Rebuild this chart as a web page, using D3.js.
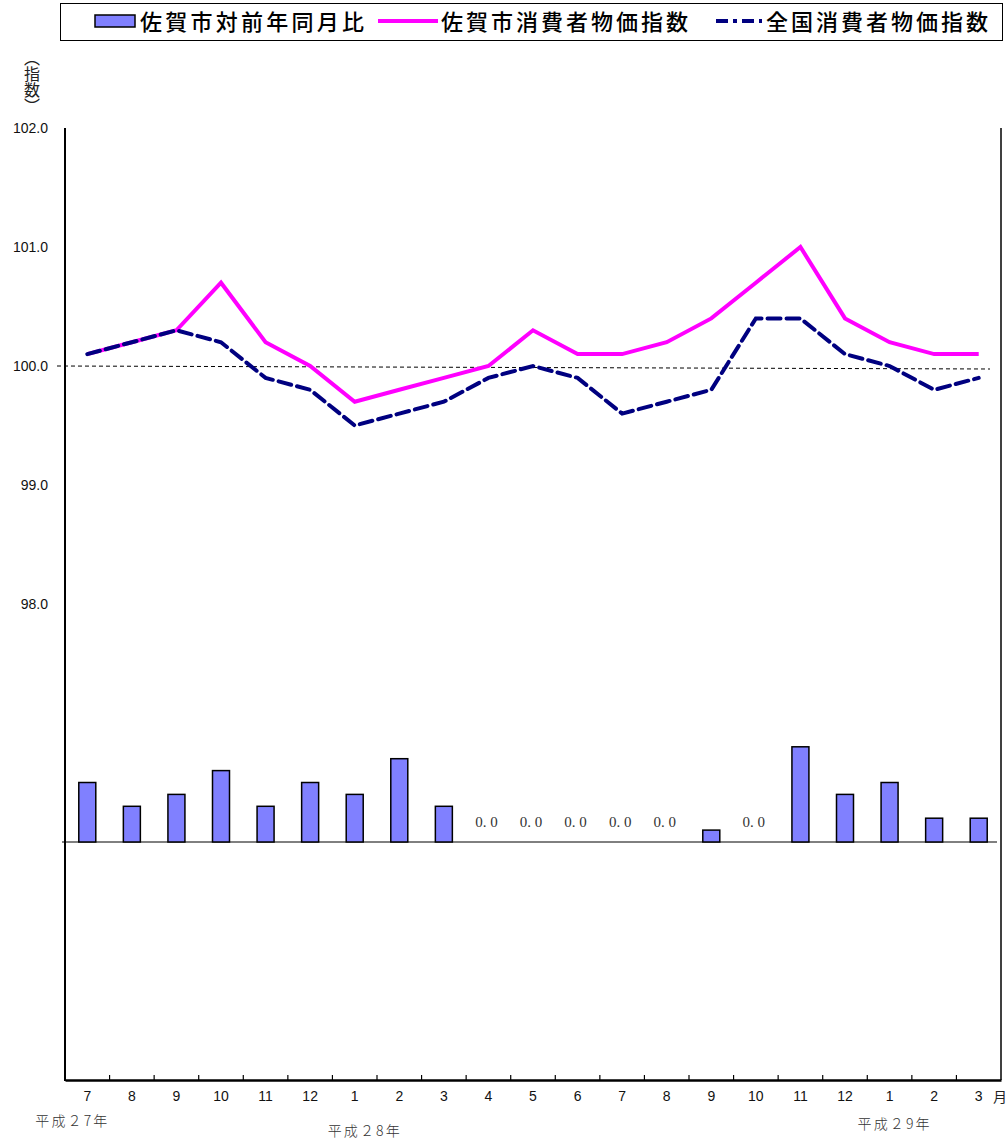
<!DOCTYPE html>
<html><head><meta charset="utf-8">
<script src="https://cdn.jsdelivr.net/npm/d3@7"></script>
<style>body{margin:0;background:#fff}svg{display:block}</style>
</head><body>
<script>
const months = ["7","8","9","10","11","12","1","2","3","4","5","6","7","8","9","10","11","12","1","2","3"];
const sagaYoY = [0.5,0.3,0.4,0.6,0.3,0.5,0.4,0.7,0.3,0.0,0.0,0.0,0.0,0.0,0.1,0.0,0.8,0.4,0.5,0.2,0.2];
const sagaCPI = [100.1,100.2,100.3,100.7,100.2,100.0,99.7,99.8,99.9,100.0,100.3,100.1,100.1,100.2,100.4,100.7,101.0,100.4,100.2,100.1,100.1];
const natCPI  = [100.1,100.2,100.3,100.2,99.9,99.8,99.5,99.6,99.7,99.9,100.0,99.9,99.6,99.7,99.8,100.4,100.4,100.1,100.0,99.8,99.9];
const yTicks = [98,99,100,101,102];
const yearLabels = [{idx:0,text:"平成２7年"},{idx:6,text:"平成２8年"},{idx:18,text:"平成２9年"}];
const legendItems = ["佐賀市対前年同月比","佐賀市消費者物価指数","全国消費者物価指数"];

(function(){
const W=1007,H=1142;
const svg=d3.select("body").append("svg").attr("width",W).attr("height",H);
const pL=65,pR=1001,pT=128,pB=1080;
const keys=months.map((m,i)=>i);
const x=d3.scaleBand().domain(keys).range([pL,pR]);
const y=d3.scaleLinear().domain([94,102]).range([pB,pT]);
const yb=d3.scaleLinear().domain([-2,6]).range([pB,pT]);
const jp="'Noto Sans CJK JP', sans-serif";

// legend
const lg=svg.append("g");
lg.append("rect").attr("x",60.5).attr("y",3.5).attr("width",942).attr("height",37).attr("fill","#fff").attr("stroke","#000").attr("stroke-width",1);
lg.append("rect").attr("x",95).attr("y",15).attr("width",40).attr("height",12).attr("fill","#8080ff").attr("stroke","#000").attr("stroke-width",1.5);
lg.append("line").attr("x1",378).attr("x2",438).attr("y1",21).attr("y2",21).attr("stroke","#ff00ff").attr("stroke-width",4);
lg.append("line").attr("x1",716).attr("x2",762).attr("y1",21).attr("y2",21).attr("stroke","#000080").attr("stroke-width",4).attr("stroke-dasharray","12,5,4,5");
const lx=[140,441,766], lw=[224,247,222];
legendItems.forEach((t,i)=>{
  lg.append("text").attr("x",lx[i]).attr("y",30).attr("font-family",jp).attr("font-size",22).attr("font-weight",500)
    .attr("textLength",lw[i]).attr("lengthAdjust","spacing").text(t);
});

// y label vertical: （指数）
svg.append("text").attr("x",32).attr("y",50)
  .style("writing-mode","vertical-rl").style("text-orientation","mixed")
  .attr("font-family",jp).attr("font-size",16).attr("fill","#222").text("（指数）");

// y tick labels
svg.append("g").selectAll("text").data(yTicks).join("text")
  .attr("x",48).attr("y",d=>y(d)+5).attr("text-anchor","end")
  .attr("font-family","'Liberation Sans',Arial,sans-serif").attr("font-size",14).attr("fill","#111")
  .text(d=>d.toFixed(1));

// 100 dashed reference
svg.append("line").attr("x1",57).attr("x2",990).attr("y1",y(100)).attr("y2",y(100)+3)
  .attr("stroke","#000").attr("stroke-width",1).attr("stroke-dasharray","4,3");

// zero line for bars
svg.append("line").attr("x1",62).attr("x2",997).attr("y1",yb(0)).attr("y2",yb(0)).attr("stroke","#000").attr("stroke-width",1);

// bars
const bw=17;
svg.append("g").selectAll("rect").data(sagaYoY.map((v,i)=>({v,i})).filter(d=>d.v>0)).join("rect")
  .attr("x",d=>x(d.i)+x.bandwidth()/2-bw/2).attr("width",bw)
  .attr("y",d=>yb(d.v)).attr("height",d=>yb(0)-yb(d.v))
  .attr("fill","#8080ff").attr("stroke","#000").attr("stroke-width",1.5);

// zero labels
svg.append("g").selectAll("text").data(sagaYoY.map((v,i)=>({v,i})).filter(d=>d.v===0)).join("text")
  .attr("x",d=>x(d.i)+x.bandwidth()/2-2).attr("y",yb(0)-15).attr("text-anchor","middle")
  .attr("font-family","'Liberation Serif','DejaVu Serif',serif").attr("font-size",15).attr("fill","#333")
  .text(d=>d.v.toFixed(1).replace(".",". "));

// lines
const line=d3.line().x((d,i)=>x(i)+x.bandwidth()/2).y(d=>y(d));
svg.append("path").attr("d",line(sagaCPI)).attr("fill","none").attr("stroke","#ff00ff").attr("stroke-width",4).attr("stroke-linejoin","miter");
svg.append("path").attr("d",line(natCPI)).attr("fill","none").attr("stroke","#000080").attr("stroke-width",4).attr("stroke-dasharray","13,6").attr("stroke-linecap","round");

// axes
svg.append("line").attr("x1",pL).attr("x2",pL).attr("y1",pT).attr("y2",pB+1).attr("stroke","#000").attr("stroke-width",2);
svg.append("line").attr("x1",pR).attr("x2",pR).attr("y1",pT).attr("y2",pB).attr("stroke","#000").attr("stroke-width",1.5);
const xa=svg.append("g").attr("transform",`translate(0,${pB})`)
  .call(d3.axisBottom(x).tickSize(0).tickFormat(i=>months[i]));
xa.select(".domain").attr("stroke","#000").attr("stroke-width",2.5);
xa.selectAll("text").attr("font-family","'Liberation Sans',Arial,sans-serif").attr("font-size",14).attr("fill","#111").attr("dy","1.3em");
svg.append("g").selectAll("line").data(keys.slice(1)).join("line")
  .attr("x1",d=>x(d)).attr("x2",d=>x(d)).attr("y1",pB-5).attr("y2",pB)
  .attr("stroke","#000").attr("stroke-width",1.2);

svg.append("text").attr("x",1000).attr("y",1102).attr("text-anchor","middle").attr("font-family",jp).attr("font-size",14).attr("fill","#222").text("月");

const yOff=[1126,1136,1129];
svg.append("g").selectAll("text").data(yearLabels).join("text")
  .attr("x",(d,i)=>x(d.idx)+x.bandwidth()/2+[-52,-27,-32][i]).attr("y",(d,i)=>yOff[i])
  .attr("textLength",72).attr("lengthAdjust","spacing")
  .attr("font-family",jp).attr("font-size",14).attr("font-weight",300).attr("fill","#333").text(d=>d.text);
})();
</script>
</body></html>
